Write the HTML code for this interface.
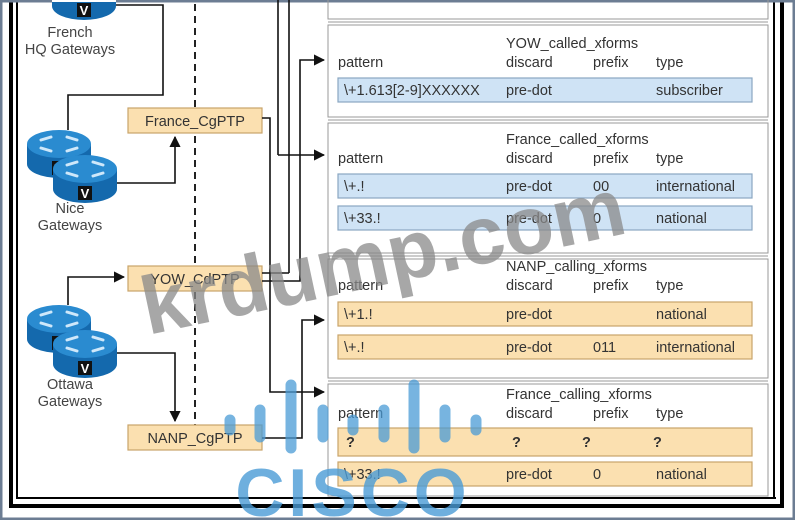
<!DOCTYPE html>
<html><head><meta charset="utf-8"><style>
html,body{margin:0;padding:0;background:#fff}
svg{display:block}
text{font-family:"Liberation Sans",sans-serif}
</style></head><body>
<svg width="795" height="520" viewBox="0 0 795 520" xmlns="http://www.w3.org/2000/svg">
<defs>
<marker id="ar" viewBox="0 0 10 10" refX="9" refY="5" markerWidth="7" markerHeight="7" orient="auto"><path d="M0,0 L10,5 L0,10 z" fill="#111"/></marker>
<g id="rt">
<path d="M0,16 L0,36 A32,14 0 0 0 64,36 L64,16 z" fill="#1469ad"/>
<ellipse cx="32" cy="16" rx="32" ry="14" fill="#2a8bd0"/>
<g stroke="#cfe8fa" stroke-width="3" stroke-linecap="round">
<line x1="14" y1="12" x2="24" y2="9"/><line x1="40" y1="9" x2="50" y2="12"/>
<line x1="14" y1="20" x2="24" y2="23"/><line x1="40" y1="23" x2="50" y2="20"/>
</g>
<rect x="25" y="33" width="14" height="14" fill="#111"/>
<text x="32" y="45" font-size="13" font-weight="bold" fill="#fff" text-anchor="middle">V</text>
</g>
</defs>
<rect x="0" y="0" width="795" height="520" fill="#fff"/>
<rect x="9" y="0" width="4" height="508" fill="#000"/>
<rect x="16" y="0" width="2" height="498" fill="#000"/>
<rect x="9" y="504" width="775" height="4" fill="#000"/>
<rect x="16" y="497" width="760" height="2" fill="#000"/>
<rect x="780" y="0" width="4" height="508" fill="#000"/>
<rect x="773" y="0" width="2" height="499" fill="#000"/>
<rect x="1" y="1" width="793" height="518" fill="none" stroke="#6c7d93" stroke-width="3"/>

<line x1="195" y1="4" x2="195" y2="425" stroke="#222" stroke-width="2" stroke-dasharray="7,5"/>

<g stroke="#999" stroke-width="1" fill="none">
<rect x="328" y="-5" width="440" height="24"/>
<line x1="328" y1="22" x2="768" y2="22"/>
<rect x="328" y="25" width="440" height="92"/>
<line x1="328" y1="120" x2="768" y2="120"/>
<rect x="328" y="123" width="440" height="130"/>
<line x1="328" y1="256" x2="768" y2="256"/>
<rect x="328" y="259" width="440" height="119"/>
<line x1="328" y1="381" x2="768" y2="381"/>
<rect x="328" y="384" width="440" height="112"/>
</g>

<g stroke-width="1.2">
<rect x="338" y="78" width="414" height="24" fill="#cfe3f5" stroke="#8aa6c2"/>
<rect x="338" y="174" width="414" height="24" fill="#cfe3f5" stroke="#8aa6c2"/>
<rect x="338" y="206" width="414" height="24" fill="#cfe3f5" stroke="#8aa6c2"/>
<rect x="338" y="302" width="414" height="24" fill="#fbe0b0" stroke="#c9a46a"/>
<rect x="338" y="335" width="414" height="24" fill="#fbe0b0" stroke="#c9a46a"/>
<rect x="338" y="428" width="414" height="28" fill="#fbe0b0" stroke="#c9a46a"/>
<rect x="338" y="462" width="414" height="24" fill="#fbe0b0" stroke="#c9a46a"/>
</g>

<g font-size="14.5" fill="#333">
<text x="506" y="48">YOW_called_xforms</text>
<text x="338" y="67">pattern</text><text x="506" y="67">discard</text><text x="593" y="67">prefix</text><text x="656" y="67">type</text>
<text x="344" y="95">\+1.613[2-9]XXXXXX</text><text x="506" y="95">pre-dot</text><text x="656" y="95">subscriber</text>

<text x="506" y="144">France_called_xforms</text>
<text x="338" y="163">pattern</text><text x="506" y="163">discard</text><text x="593" y="163">prefix</text><text x="656" y="163">type</text>
<text x="344" y="191">\+.!</text><text x="506" y="191">pre-dot</text><text x="593" y="191">00</text><text x="656" y="191">international</text>
<text x="344" y="223">\+33.!</text><text x="506" y="223">pre-dot</text><text x="593" y="223">0</text><text x="656" y="223">national</text>

<text x="506" y="271">NANP_calling_xforms</text>
<text x="338" y="290">pattern</text><text x="506" y="290">discard</text><text x="593" y="290">prefix</text><text x="656" y="290">type</text>
<text x="344" y="319">\+1.!</text><text x="506" y="319">pre-dot</text><text x="656" y="319">national</text>
<text x="344" y="352">\+.!</text><text x="506" y="352">pre-dot</text><text x="593" y="352">011</text><text x="656" y="352">international</text>

<text x="506" y="399">France_calling_xforms</text>
<text x="338" y="418">pattern</text><text x="506" y="418">discard</text><text x="593" y="418">prefix</text><text x="656" y="418">type</text>
<text x="346" y="447" font-weight="bold">?</text><text x="512" y="447" font-weight="bold">?</text><text x="582" y="447" font-weight="bold">?</text><text x="653" y="447" font-weight="bold">?</text>
<text x="344" y="479">\+33.!</text><text x="506" y="479">pre-dot</text><text x="593" y="479">0</text><text x="656" y="479">national</text>
</g>

<g stroke="#c9a46a" stroke-width="1.2" fill="#fbe0b0">
<rect x="128" y="108" width="134" height="25"/>
<rect x="128" y="266" width="134" height="25"/>
<rect x="128" y="425" width="134" height="25"/>
</g>
<g font-size="14.5" fill="#333" text-anchor="middle">
<text x="195" y="126">France_CgPTP</text>
<text x="195" y="284">YOW_CdPTP</text>
<text x="195" y="443">NANP_CgPTP</text>
</g>

<g stroke="#111" stroke-width="1.6" fill="none">
<polyline points="100,5 163,5 163,95 68,95 68,130"/>
<polyline points="117,183 175,183 175,137" marker-end="url(#ar)"/>
<polyline points="68,305 68,277 124,277" marker-end="url(#ar)"/>
<polyline points="117,353 175,353 175,421" marker-end="url(#ar)"/>
<line x1="278" y1="0" x2="278" y2="155"/>
<polyline points="278,155 324,155" marker-end="url(#ar)"/>
<line x1="289" y1="0" x2="289" y2="273"/>
<polyline points="262,273 289,273"/>
<polyline points="262,281 300,281 300,60 324,60" marker-end="url(#ar)"/>
<polyline points="262,118 270,118 270,392 324,392" marker-end="url(#ar)"/>
<polyline points="262,438 302,438 302,320 324,320" marker-end="url(#ar)"/>
</g>

<g transform="translate(52,-30)"><use href="#rt"/></g>
<use href="#rt" transform="translate(27,128)"/>
<use href="#rt" transform="translate(53,153)"/>
<use href="#rt" transform="translate(27,303)"/>
<use href="#rt" transform="translate(53,328)"/>
<rect x="52" y="0" width="64" height="2" fill="#fff"/>

<g font-size="14.5" fill="#444" text-anchor="middle">
<text x="70" y="37">French</text><text x="70" y="54">HQ Gateways</text>
<text x="70" y="213">Nice</text><text x="70" y="230">Gateways</text>
<text x="70" y="389">Ottawa</text><text x="70" y="406">Gateways</text>
</g>

<text x="148" y="335" font-size="82" font-weight="bold" fill="#8a8a8a" fill-opacity="0.75" transform="rotate(-12 148 335)">krdump.com</text>
<g stroke="#4a9bd6" stroke-opacity="0.75" stroke-width="11" stroke-linecap="round">
<line x1="230" y1="420" x2="230" y2="430"/>
<line x1="260" y1="410" x2="260" y2="437"/>
<line x1="291" y1="385" x2="291" y2="448"/>
<line x1="323" y1="410" x2="323" y2="437"/>
<line x1="353" y1="420" x2="353" y2="430"/>
<line x1="384" y1="410" x2="384" y2="437"/>
<line x1="414" y1="385" x2="414" y2="448"/>
<line x1="445" y1="410" x2="445" y2="437"/>
<line x1="476" y1="420" x2="476" y2="430"/>
</g>
<text x="353" y="516" font-size="68" font-weight="bold" fill="#4a9bd6" fill-opacity="0.8" text-anchor="middle" letter-spacing="4">CISCO</text>
</svg>
</body></html>
